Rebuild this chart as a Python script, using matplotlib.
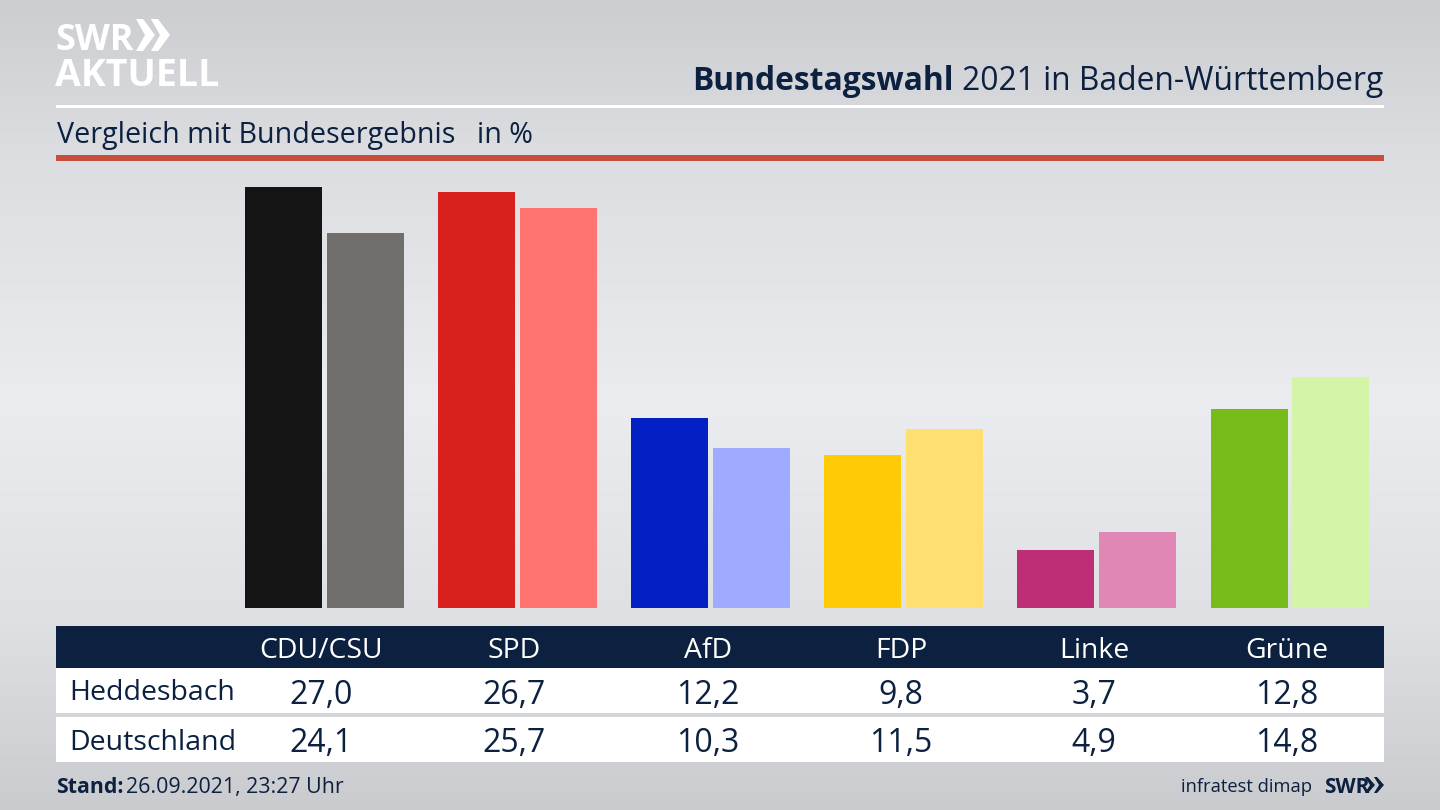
import numpy as np
import matplotlib
matplotlib.use("Agg")
import matplotlib.pyplot as plt
from matplotlib.patches import Rectangle, Polygon

parties = ["CDU/CSU", "SPD", "AfD", "FDP", "Linke", "Grüne"]
heddesbach = [27.0, 26.7, 12.2, 9.8, 3.7, 12.8]
deutschland = [24.1, 25.7, 10.3, 11.5, 4.9, 14.8]
colors_local = ["#141414", "#d8201c", "#0320c4", "#ffcb07", "#bd2e77", "#78bc1c"]
colors_national = ["#706f6c", "#ff7370", "#9eabff", "#ffdf70", "#e087b6", "#d4f5a8"]
row_names = ["Heddesbach", "Deutschland"]

W, H = 1440, 810
NAVY = "#0c2040"
FONT = "Open Sans"
plt.rcParams["font.family"] = [FONT, "DejaVu Sans"]

fig = plt.figure(figsize=(W / 100, H / 100), dpi=100)

bg = fig.add_axes([0, 0, 1, 1], zorder=0)
bg.set_xlim(0, W)
bg.set_ylim(H, 0)
bg.axis("off")
stops_y = [0, 150, 400, 620, 810]
stops_v = [205, 221, 236, 224, 203]
grad = np.interp(np.arange(H), stops_y, stops_v)
rgb = np.stack([grad - 1, grad, grad + 3], axis=1)[:, None, :] / 255
bg.imshow(np.clip(rgb, 0, 1), extent=(0, W, H, 0), aspect="auto", zorder=0)


def rect(x0, y0, x1, y1, color):
    bg.add_patch(Rectangle((x0, y0), x1 - x0, y1 - y0, fc=color, ec="none", zorder=1))


def label(x, y, s, size, color=NAVY, ha="left", weight="normal"):
    return bg.text(x, y, s, fontsize=size, color=color, ha=ha, va="center_baseline",
                   fontweight=weight, zorder=3)


rect(56, 104.5, 1384, 107.5, "white")
rect(56, 155, 1384, 160.5, "#c64f3c")
rect(56, 626, 1384, 668, NAVY)
rect(56, 668, 1384, 713, "white")
rect(56, 717, 1384, 762, "white")

# logo
label(55, 36, "SWR", 26, "white", weight="bold")
label(55, 72, "AKTUELL", 27, "white", weight="bold")
for x0 in (136, 151):
    bg.add_patch(Polygon([(x0, 19), (x0 + 7, 19), (x0 + 19, 35), (x0 + 7, 51), (x0, 51), (x0 + 9, 35)],
                         fc="white", ec="none", zorder=3))

# title
t2 = label(1383, 78, "2021 in Baden-Württemberg", 22.9, ha="right")
fig.canvas.draw()
bb = t2.get_window_extent()
label(bb.x0 - 8, 78, "Bundestagswahl", 22.9, ha="right", weight="bold")
label(57, 132, "Vergleich mit Bundesergebnis", 20.6)
label(477, 132, "in %", 20.6)

# bars
ax = fig.add_axes([56 / W, 1 - 608 / H, (1384 - 56) / W, (608 - 187) / H], zorder=1)
ax.patch.set_alpha(0)
ax.axis("off")
ax.set_xlim((56 - 324.5) / 193.1, (1384 - 324.5) / 193.1)
ax.set_ylim(0, 27.03)
x = np.arange(len(parties))
bar_w = 77 / 193.1
off = 41 / 193.1
ax.bar(x - off, heddesbach, width=bar_w, color=colors_local)
ax.bar(x + off, deutschland, width=bar_w, color=colors_national)

# table
centers = [321, 514, 708, 901, 1094, 1287]
for cx, p, a, b in zip(centers, parties, heddesbach, deutschland):
    label(cx, 647, p, 20.4, "white", ha="center")
    label(cx, 691, f"{a:.1f}".replace(".", ","), 23, ha="center")
    label(cx, 740, f"{b:.1f}".replace(".", ","), 23, ha="center")
label(69.5, 690, row_names[0], 20.5)
label(69.5, 740, row_names[1], 20.5)

# footer
label(56, 785, "Stand:", 15.3, weight="bold")
label(126, 785, "26.09.2021, 23:27 Uhr", 15.4)
label(1312, 785, "infratest dimap", 13.2, ha="right")
label(1324, 785, "SWR", 15, weight="bold")
for x0 in (1365, 1374):
    bg.add_patch(Polygon([(x0, 777), (x0 + 3, 777), (x0 + 10, 785), (x0 + 3, 793), (x0, 793), (x0 + 5, 785)],
                         fc=NAVY, ec="none", zorder=3))

fig.savefig("out.png", dpi=100)
